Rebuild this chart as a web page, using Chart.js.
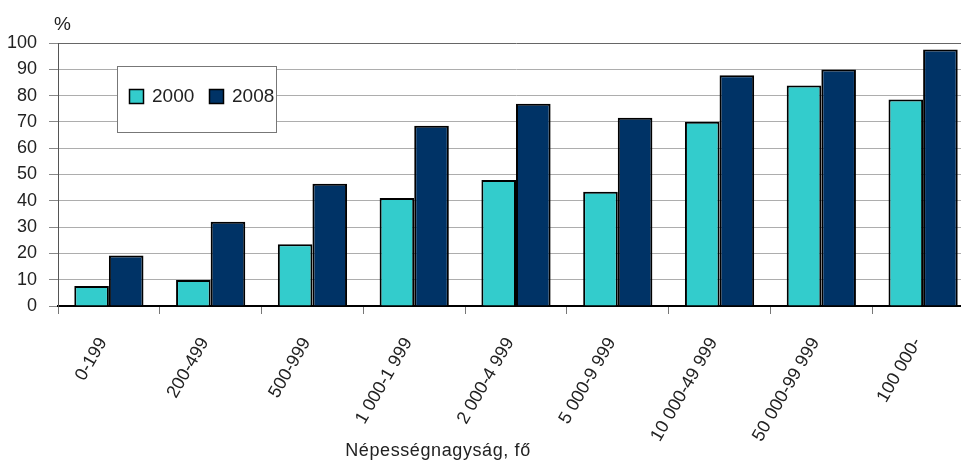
<!DOCTYPE html>
<html>
<head>
<meta charset="utf-8">
<script src="https://cdn.jsdelivr.net/npm/chart.js@4/dist/chart.umd.min.js"></script>
<style>
  html, body { margin: 0; padding: 0; overflow: hidden; background: #fff; }
  canvas { display: block; }
</style>
</head>
<body>
<canvas id="chart" width="980" height="461"></canvas>
<script>
// Settlement size groups (population)
const categories = ['0-199', '200-499', '500-999', '1 000-1 999', '2 000-4 999',
                    '5 000-9 999', '10 000-49 999', '50 000-99 999', '100 000-'];
const seriesNames = ['2000', '2008'];
const values2000 = [7.6, 9.9, 23.5, 41.1, 47.9, 43.4, 70.1, 83.8, 78.5];
const values2008 = [19.2, 32.0, 46.5, 68.5, 76.9, 71.6, 87.7, 89.9, 97.5];
const yMin = 0, yMax = 100, yStep = 10;

const FONT = "'Liberation Sans', Arial, sans-serif";
const TEXT = '#222';

// Unit label, axis title and framed legend drawn on top of the chart
const extras = {
  id: 'extras',
  afterDraw(chart) {
    const ctx = chart.ctx;
    const area = chart.chartArea;
    ctx.save();
    ctx.fillStyle = TEXT;
    ctx.font = '19px ' + FONT;
    ctx.textBaseline = 'alphabetic';
    ctx.textAlign = 'left';
    ctx.fillText('%', area.left - 4, 30);

    // x axis title
    ctx.font = '18px ' + FONT;
    ctx.textAlign = 'center';
    ctx.textBaseline = 'middle';
    if ('letterSpacing' in ctx) ctx.letterSpacing = '0.6px';
    ctx.fillText('Népességnagyság, fő', 438, 451);
    if ('letterSpacing' in ctx) ctx.letterSpacing = '0px';

    // legend box
    const bx = 117.5, by = 66.5, bw = 159, bh = 66;
    ctx.fillStyle = '#fff';
    ctx.fillRect(bx, by, bw, bh);
    ctx.strokeStyle = '#777';
    ctx.lineWidth = 1;
    ctx.strokeRect(bx, by, bw, bh);
    const itemX = [129, 209];
    chart.data.datasets.forEach((ds, i) => {
      const x = itemX[i];
      ctx.fillStyle = ds.backgroundColor;
      ctx.fillRect(x + 0.5, 89.5, 14, 14);
      ctx.strokeStyle = '#000';
      ctx.lineWidth = 1.5;
      ctx.strokeRect(x + 0.5, 89.5, 14, 14);
      ctx.fillStyle = TEXT;
      ctx.font = '19px ' + FONT;
      ctx.textAlign = 'left';
      ctx.textBaseline = 'middle';
      ctx.fillText(ds.label, x + 23, 97);
    });
    ctx.restore();
  }
};

new Chart(document.getElementById('chart'), {
  type: 'bar',
  data: {
    labels: categories,
    datasets: [
      { label: seriesNames[0], data: values2000, backgroundColor: '#33CCCC',
        borderColor: '#000', borderWidth: 2, inflateAmount: 0 },
      { label: seriesNames[1], data: values2008, backgroundColor: '#003366',
        borderColor: '#000', borderWidth: 2, inflateAmount: 0 }
    ]
  },
  options: {
    responsive: false,
    animation: false,
    layout: { padding: { top: 43, right: 6, left: 0, bottom: 0 } },
    datasets: { bar: { categoryPercentage: 0.68, barPercentage: 1.0 } },
    plugins: { legend: { display: false }, tooltip: { enabled: false } },
    scales: {
      x: {
        offset: true,
        afterFit(s) { s.height = 155; },
        grid: { offset: true, drawOnChartArea: false, drawTicks: true,
                tickLength: 8, color: '#777', lineWidth: 1 },
        border: { display: true, color: '#000', width: 2 },
        ticks: { autoSkip: false, maxRotation: 60, minRotation: 60, padding: 20,
                 labelOffset: -6, color: TEXT, font: { family: FONT, size: 18 } }
      },
      y: {
        min: yMin, max: yMax,
        afterFit(s) { s.width = 58; },
        grid: {
          color: c => (c.tick && c.tick.value === yMax) ? '#666' : '#adadad',
          tickColor: '#888', tickLength: 9, lineWidth: 1
        },
        border: { display: true, color: '#555', width: 1 },
        ticks: { stepSize: yStep, autoSkip: false, padding: 12, color: TEXT,
                 font: { family: FONT, size: 18 } }
      }
    }
  },
  plugins: [extras]
});
</script>
</body>
</html>
